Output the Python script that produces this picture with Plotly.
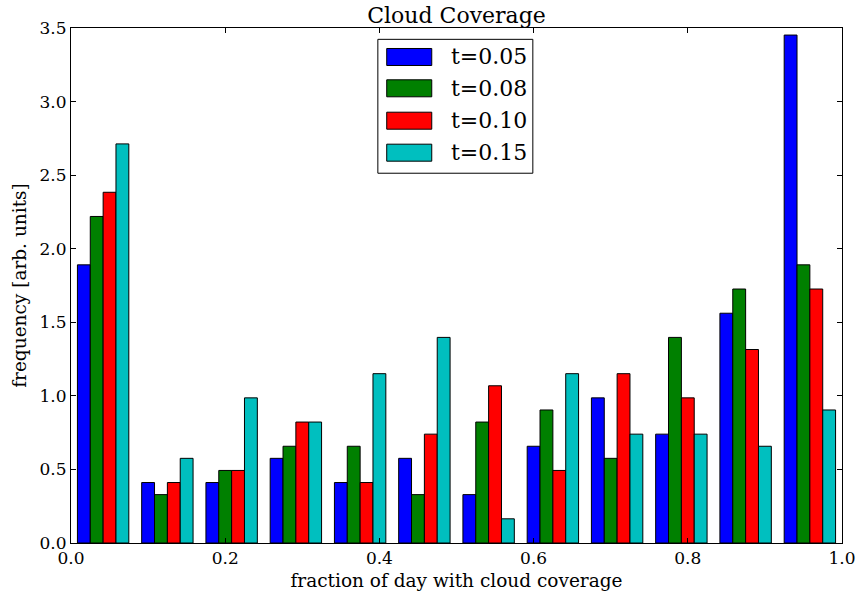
import numpy as np
import plotly.graph_objects as go

# Histogram of cloud-coverage fraction, 12 equal bins on [0, 1]
bin_edges = np.linspace(0.0, 1.0, 13)
labels = ["t=0.05", "t=0.08", "t=0.10", "t=0.15"]
colors = ["#0000ff", "#008000", "#ff0000", "#00bfbf"]

# counts per bin for each threshold
counts_005 = [23, 5, 5, 7, 5, 7, 4, 8, 12, 9, 19, 42]
counts_008 = [27, 4, 6, 8, 8, 4, 10, 11, 7, 17, 21, 23]
counts_010 = [29, 5, 6, 10, 5, 9, 13, 6, 14, 12, 16, 21]
counts_015 = [33, 7, 12, 10, 14, 17, 2, 14, 9, 9, 8, 11]
all_counts = [counts_005, counts_008, counts_010, counts_015]

x_ticks = [0.0, 0.2, 0.4, 0.6, 0.8, 1.0]
y_ticks = [0.0, 0.5, 1.0, 1.5, 2.0, 2.5, 3.0, 3.5]

FONT = "DejaVu Serif"

centers = 0.5 * (bin_edges[:-1] + bin_edges[1:])
widths = np.diff(bin_edges)

fig = go.Figure()
for name, col, cnt in zip(labels, colors, all_counts):
    cnt = np.asarray(cnt, dtype=float)
    density = cnt / (cnt.sum() * widths)  # normed histogram
    fig.add_trace(go.Bar(
        x=centers, y=density, name=name,
        marker=dict(color=col, line=dict(color="black", width=1)),
        showlegend=False,
    ))

axis_common = dict(
    showline=True, linecolor="black", linewidth=1, mirror="ticks",
    ticks="inside", ticklen=5, tickcolor="black", tickwidth=1,
    showgrid=False, zeroline=False, automargin=False,
    tickfont=dict(family=FONT, size=17, color="black"),
    title_font=dict(family=FONT, size=18.5, color="black"),
)

fig.update_layout(
    width=857, height=599,
    margin=dict(l=71, r=15, t=28, b=56),
    paper_bgcolor="white", plot_bgcolor="white",
    barmode="group", bargap=0.2, bargroupgap=0.0,
    title=dict(text="Cloud Coverage", x=0.5, xanchor="center",
               xref="paper", y=1 - 15 / 599, yref="container",
               yanchor="middle",
               font=dict(family=FONT, size=22, color="black")),
    xaxis=dict(range=[0, 1], tickvals=x_ticks, tickformat=".1f",
               title=dict(text="fraction of day with cloud coverage", standoff=6),
               **axis_common),
    yaxis=dict(range=[0, 3.5], tickvals=y_ticks, tickformat=".1f",
               title=dict(text="frequency [arb. units]", standoff=8),
               **axis_common),
)

# legend box (upper centre)
box_x0, box_x1 = 0.398, 0.599
box_y0, box_y1 = 0.718, 0.978
fig.add_shape(type="rect", xref="paper", yref="paper",
              x0=box_x0, x1=box_x1, y0=box_y0, y1=box_y1,
              line=dict(color="black", width=1), fillcolor="white", layer="above")
row_y = [0.9437, 0.8829, 0.8200, 0.7579]
half_h = 0.0165
for name, col, yc in zip(labels, colors, row_y):
    fig.add_shape(type="rect", xref="paper", yref="paper",
                  x0=0.4095, x1=0.4679, y0=yc - half_h, y1=yc + half_h,
                  line=dict(color="black", width=1), fillcolor=col, layer="above")
    fig.add_annotation(xref="paper", yref="paper", x=0.4907, y=yc,
                       xanchor="left", yanchor="middle", showarrow=False,
                       text=name, font=dict(family=FONT, size=22, color="black"))

fig.write_html("out.html")
